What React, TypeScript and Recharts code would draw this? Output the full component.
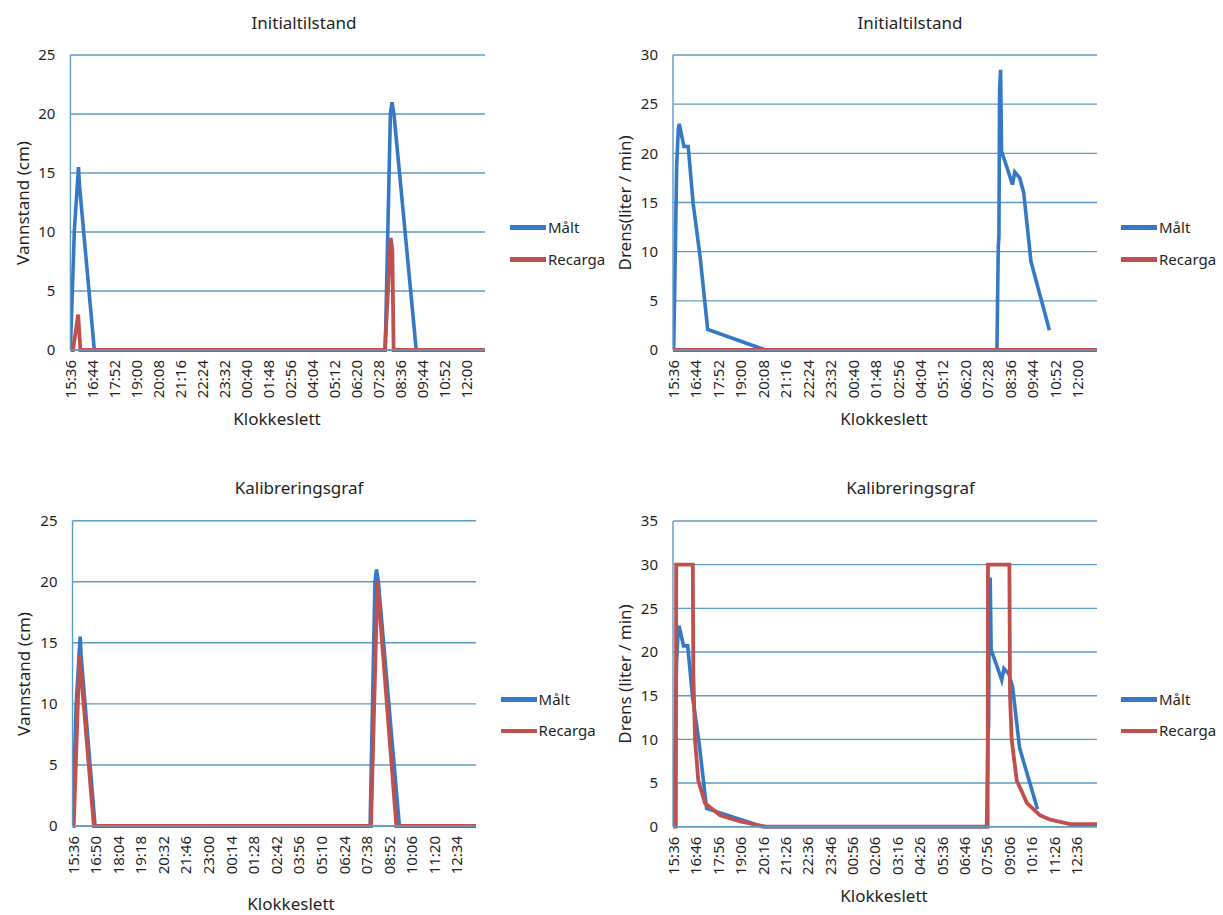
import { LineChart, Line, XAxis, YAxis, CartesianGrid, Legend } from "recharts";

// time in minutes after 15:36, value
type Pair = [number, number];

const ticksInit = ["15:36", "16:44", "17:52", "19:00", "20:08", "21:16", "22:24", "23:32", "00:40", "01:48", "02:56", "04:04", "05:12", "06:20", "07:28", "08:36", "09:44", "10:52", "12:00"];
const ticksKalVann = ["15:36", "16:50", "18:04", "19:18", "20:32", "21:46", "23:00", "00:14", "01:28", "02:42", "03:56", "05:10", "06:24", "07:38", "08:52", "10:06", "11:20", "12:34"];
const ticksKalDrens = ["15:36", "16:46", "17:56", "19:06", "20:16", "21:26", "22:36", "23:46", "00:56", "02:06", "03:16", "04:26", "05:36", "06:46", "07:56", "09:06", "10:16", "11:26", "12:36"];

const yTicksVann = [0, 5, 10, 15, 20, 25];
const yTicksInitDrens = [0, 5, 10, 15, 20, 25, 30];
const yTicksKalDrens = [0, 5, 10, 15, 20, 25, 30, 35];

// measured water level (cm)
const maltVannstand: Pair[] = [
  [0, 0], [12, 10], [25, 15.5], [28, 14], [74, 0],
  [975, 0], [991, 20], [996, 21], [1002, 20], [1071, 0], [1322, 0],
];
// measured drainage (liter / min)
const maltDrens: Pair[] = [
  [2, 0], [7, 10], [11, 18.6], [16, 22.4], [19, 23], [33, 20.7], [46, 20.7],
  [61, 14.9], [82, 9.5], [105, 2.1], [280, 0],
  [981, 0], [985, 10.5], [987, 11.5], [989, 26.4], [992, 28.5], [995, 20.2],
  [1004, 19.3], [1014, 18.3], [1028, 16.8], [1035, 18.1], [1050, 17.5],
  [1062, 16], [1084, 9], [1140, 2],
];

const recargaInitVann: Pair[] = [
  [0, 0], [8, 0], [24, 3], [31, 0], [974, 0], [992, 9.5], [997, 8.5], [1001, 0], [1284, 0],
];
const recargaInitDrens: Pair[] = [[0, 0], [1284, 0]];
const recargaKalVann: Pair[] = [
  [0, 0], [4, 0], [23, 14], [70, 0], [978, 0], [999, 20], [1061, 0], [1322, 0],
];
const recargaKalDrens: Pair[] = [
  [0, 0], [9, 0], [10, 30], [62, 30], [63.5, 17.6], [69, 9.9], [79, 5.3], [100, 2.7],
  [147, 1.3], [210, 0.6], [290, 0], [984, 0], [985, 30], [1052, 30], [1054, 14.9],
  [1059, 10], [1075, 5.3], [1107, 2.7], [1148, 1.3], [1180, 0.8], [1242, 0.3], [1326, 0.3],
];

const BLUE = "#3579c6";
const RED = "#c0504d";
const GRID = "#5b9cc4";
const TEXT = "#1f1f1f";
const FONT = "'Noto Sans', sans-serif";

const toRows = (pairs: Pair[]) => pairs.map(([t, v]) => ({ t, v }));
const toMinutes = (label: string) => {
  const [h, m] = label.split(":").map(Number);
  let d = h * 60 + m - (15 * 60 + 36);
  if (d < 0) d += 1440;
  return d;
};

interface PanelProps {
  box: { x: number; y: number; w: number; h: number };
  plot: { left: number; right: number; top: number; bottom: number };
  title: string;
  yLabel: string;
  titlePos: [number, number];
  yLabelPos: [number, number];
  xLabelPos: [number, number];
  legendPos: [number, number];
  xTicks: string[];
  xMax: number;
  yTicks: number[];
  malt: Pair[];
  recarga: Pair[];
}

const XH = 60;

function TimeTick(props: any) {
  const { x, y, payload, labels } = props;
  const label = labels.find((l: string) => toMinutes(l) === payload.value) ?? "";
  return (
    <text
      x={x}
      y={y}
      transform={`rotate(-90 ${x} ${y})`}
      textAnchor="end"
      dominantBaseline="central"
      fontSize={15}
      fontFamily={FONT}
      fill={TEXT}
    >
      {label}
    </text>
  );
}

function LegendBox(props: any) {
  const items = props.payload ?? [];
  return (
    <div style={{ fontFamily: FONT, fontSize: 15, color: TEXT }}>
      {items.map((it: any) => (
        <div key={it.value} style={{ display: "flex", alignItems: "center", height: 31.6 }}>
          <div style={{ width: 36, height: 4.5, background: it.color }} />
          <span style={{ marginLeft: 2, lineHeight: 1 }}>{it.value}</span>
        </div>
      ))}
    </div>
  );
}

const centered = (x: number, y: number, extra: React.CSSProperties = {}): React.CSSProperties => ({
  position: "absolute",
  left: x,
  top: y,
  transform: "translate(-50%, -50%)",
  whiteSpace: "nowrap",
  lineHeight: 1,
  fontFamily: FONT,
  color: TEXT,
  fontSize: 17,
  ...extra,
});

function Panel(p: PanelProps) {
  const { box, plot } = p;
  const margin = {
    top: plot.top - box.y,
    right: box.x + box.w - plot.right,
    left: 0,
    bottom: box.y + box.h - plot.bottom - XH,
  };
  const ticks = p.xTicks.map(toMinutes);
  return (
    <>
      <div style={{ position: "absolute", left: box.x, top: box.y }}>
        <LineChart width={box.w} height={box.h} margin={margin}>
          <CartesianGrid vertical={false} stroke={GRID} strokeWidth={1.4} />
          <XAxis
            dataKey="t"
            type="number"
            domain={[0, p.xMax]}
            ticks={ticks}
            interval={0}
            height={XH}
            tickLine={false}
            tickSize={0}
            tickMargin={10}
            axisLine={{ stroke: GRID, strokeWidth: 1.4 }}
            tick={<TimeTick labels={p.xTicks} />}
            allowDataOverflow
          />
          <YAxis
            type="number"
            domain={[0, p.yTicks[p.yTicks.length - 1]]}
            ticks={p.yTicks}
            interval={0}
            width={plot.left - box.x}
            tickLine={false}
            tickSize={0}
            tickMargin={15}
            axisLine={{ stroke: GRID, strokeWidth: 1.4 }}
            tick={{ fontSize: 15, fontFamily: FONT, fill: TEXT }}
          />
          <Legend
            layout="vertical"
            align="center"
            verticalAlign="middle"
            content={<LegendBox />}
            wrapperStyle={{
              left: p.legendPos[0] - box.x,
              top: p.legendPos[1] - box.y - 15.8,
              width: 110,
            }}
          />
          <Line
            data={toRows(p.malt)}
            dataKey="v"
            name="Målt"
            type="linear"
            stroke={BLUE}
            strokeWidth={3.6}
            dot={false}
            isAnimationActive={false}
          />
          <Line
            data={toRows(p.recarga)}
            dataKey="v"
            name="Recarga"
            type="linear"
            stroke={RED}
            strokeWidth={3.8}
            dot={false}
            isAnimationActive={false}
          />
        </LineChart>
      </div>
      <div style={centered(p.titlePos[0], p.titlePos[1])}>{p.title}</div>
      <div style={centered(p.xLabelPos[0], p.xLabelPos[1])}>Klokkeslett</div>
      <div style={centered(p.yLabelPos[0], p.yLabelPos[1], { transform: "translate(-50%, -50%) rotate(-90deg)" })}>
        {p.yLabel}
      </div>
    </>
  );
}

export default function App() {
  return (
    <div
      style={{
        position: "absolute",
        left: 0,
        top: 0,
        width: 1223,
        height: 915,
        background: "#ffffff",
        overflow: "hidden",
      }}
    >
      <Panel
        box={{ x: 0, y: 0, w: 610, h: 460 }}
        plot={{ left: 70.4, right: 485, top: 55, bottom: 350 }}
        title="Initialtilstand"
        yLabel="Vannstand (cm)"
        titlePos={[304, 22]}
        yLabelPos={[21.5, 203]}
        xLabelPos={[277, 418]}
        legendPos={[510, 227.7]}
        xTicks={ticksInit}
        xMax={1284}
        yTicks={yTicksVann}
        malt={maltVannstand}
        recarga={recargaInitVann}
      />
      <Panel
        box={{ x: 610, y: 0, w: 613, h: 460 }}
        plot={{ left: 673, right: 1097, top: 55, bottom: 350 }}
        title="Initialtilstand"
        yLabel="Drens(liter / min)"
        titlePos={[910, 22]}
        yLabelPos={[624, 203]}
        xLabelPos={[884, 418]}
        legendPos={[1121, 227.7]}
        xTicks={ticksInit}
        xMax={1284}
        yTicks={yTicksInitDrens}
        malt={maltDrens}
        recarga={recargaInitDrens}
      />
      <Panel
        box={{ x: 0, y: 460, w: 610, h: 455 }}
        plot={{ left: 72.5, right: 476, top: 520.7, bottom: 826 }}
        title="Kalibreringsgraf"
        yLabel="Vannstand (cm)"
        titlePos={[299, 487]}
        yLabelPos={[22.5, 674]}
        xLabelPos={[291, 903]}
        legendPos={[500.6, 699.3]}
        xTicks={ticksKalVann}
        xMax={1322}
        yTicks={yTicksVann}
        malt={maltVannstand}
        recarga={recargaKalVann}
      />
      <Panel
        box={{ x: 610, y: 460, w: 613, h: 455 }}
        plot={{ left: 673, right: 1097, top: 521, bottom: 826.7 }}
        title="Kalibreringsgraf"
        yLabel="Drens (liter / min)"
        titlePos={[910.6, 487]}
        yLabelPos={[624, 674]}
        xLabelPos={[884, 895]}
        legendPos={[1121, 699.3]}
        xTicks={ticksKalDrens}
        xMax={1326}
        yTicks={yTicksKalDrens}
        malt={maltDrens}
        recarga={recargaKalDrens}
      />
    </div>
  );
}
